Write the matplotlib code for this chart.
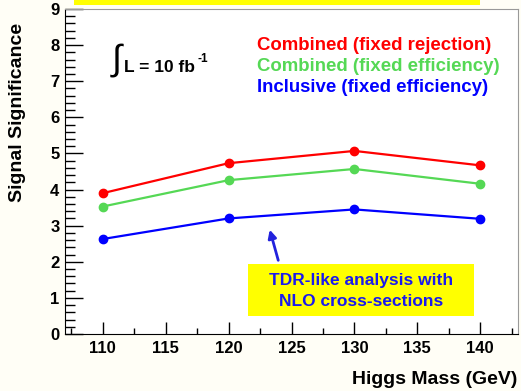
import matplotlib
matplotlib.use("Agg")
from matplotlib import pyplot as plt
from matplotlib.patches import Rectangle
from matplotlib.ticker import MultipleLocator, FuncFormatter

plt.rcParams["font.family"] = ["Liberation Sans", "DejaVu Sans"]
plt.rcParams["mathtext.fontset"] = "custom"
plt.rcParams["mathtext.rm"] = "Liberation Sans"
plt.rcParams["mathtext.bf"] = "Liberation Sans:bold"

# data
higgs_mass = [110, 120, 130, 140]
combined_rejection = [3.90, 4.73, 5.07, 4.67]
combined_efficiency = [3.53, 4.26, 4.57, 4.16]
inclusive_efficiency = [2.63, 3.20, 3.45, 3.19]

series_labels = ["Combined (fixed rejection)",
                 "Combined (fixed efficiency)",
                 "Inclusive (fixed efficiency)"]
series_colors = ["#ff0000", "#55d855", "#0000ff"]

W, H = 521, 391
fig = plt.figure(figsize=(W / 100, H / 100), dpi=100, facecolor="#fffef6")
ax = fig.add_axes([65 / W, 1 - 334 / H, (518 - 65) / W, (334 - 9) / H])
ax.set_facecolor("white")

for vals, col in zip([combined_rejection, combined_efficiency, inclusive_efficiency], series_colors):
    ax.plot(higgs_mass, vals, color=col, lw=1.6, marker="o", ms=6, mec=col, mfc=col)

ax.set_xlim(107, 143)
ax.set_ylim(0, 9)
ax.xaxis.set_major_locator(MultipleLocator(5))
ax.xaxis.set_minor_locator(MultipleLocator(2.5))
ax.yaxis.set_major_locator(MultipleLocator(1))
ax.yaxis.set_minor_locator(MultipleLocator(0.2))
ax.tick_params(axis="x", which="major", direction="in", length=9, width=1, pad=5,
               labelsize=12)
ax.tick_params(axis="x", which="minor", direction="in", length=4, width=1)
ax.tick_params(axis="y", which="major", direction="in", length=13, width=1, pad=4,
               labelsize=12)
ax.tick_params(axis="y", which="minor", direction="in", length=7, width=1)
ax.xaxis.set_major_formatter(FuncFormatter(lambda v, p: f"{v:.0f}"))
ax.yaxis.set_major_formatter(FuncFormatter(lambda v, p: f"{v:.0f}"))
for lab in ax.get_xticklabels() + ax.get_yticklabels():
    lab.set_fontweight("bold")
ax.spines["top"].set_color("#999999")
ax.spines["right"].set_color("#999999")

# legend texts
for i, (lab, col) in enumerate(zip(series_labels, series_colors)):
    fig.text(257 / W, 1 - (45 + 21.5 * i) / H, lab, color=col, fontsize=13.4,
             fontweight="bold", va="center", ha="left")

# luminosity label
fig.text(110 / W, 1 - 60 / H, r"$\int$", fontsize=26, va="center", ha="left")
fig.text(124 / W, 1 - 67 / H, "L = 10 fb", fontsize=12.5,
         fontweight="bold", va="center", ha="left")
fig.text(198 / W, 1 - 59 / H, "-1", fontsize=8.5,
         fontweight="bold", va="center", ha="left")

# axis titles
fig.text(18 / W, 1 - 112 / H, "Signal Significance", rotation=90, fontsize=14,
         fontweight="bold", va="center", ha="center")
fig.text(517 / W, 1 - 380 / H, "Higgs Mass (GeV)", fontsize=14,
         fontweight="bold", va="center", ha="right")

# yellow boxes
fig.patches.append(Rectangle((74 / W, 1 - 5 / H), (480 - 74) / W, 6 / H,
                             transform=fig.transFigure, facecolor="#ffff00",
                             edgecolor="none", zorder=5))
fig.patches.append(Rectangle((248 / W, 1 - 316 / H), (474 - 248) / W, (316 - 264) / H,
                             transform=fig.transFigure, facecolor="#ffff00",
                             edgecolor="none", zorder=5))
fig.text(361 / W, 1 - 280 / H, "TDR-like analysis with", color="#1a1aee",
         fontsize=12.5, fontweight="bold", va="center", ha="center", zorder=6)
fig.text(361 / W, 1 - 301 / H, "NLO cross-sections", color="#1a1aee",
         fontsize=12.5, fontweight="bold", va="center", ha="center", zorder=6)
ax.annotate("", xy=(269 / W, 1 - 227 / H), xytext=(279 / W, 1 - 263 / H),
            xycoords="figure fraction", textcoords="figure fraction",
            arrowprops=dict(arrowstyle="-|>", color="#2222dd", lw=2,
                            mutation_scale=12))

fig.savefig("out.png", dpi=100, facecolor=fig.get_facecolor())
